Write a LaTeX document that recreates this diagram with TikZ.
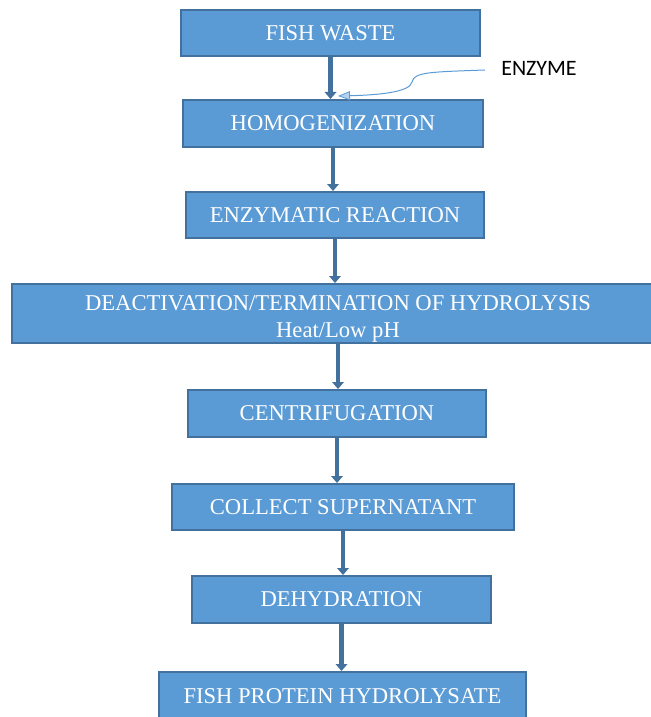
\documentclass[tikz,border=0pt]{standalone}
\usepackage{fontspec}
\setmainfont{Liberation Serif}
\newfontfamily\labelfont{Carlito}
\usepackage{xcolor}
\usetikzlibrary{arrows.meta,calc}
\definecolor{boxfill}{RGB}{91,155,213}
\definecolor{boxedge}{RGB}{65,113,156}
\tikzset{
  stepbox/.style = {draw=boxedge, fill=boxfill, line width=1pt, text=white, align=center,
                    font=\fontsize{11.3}{13.5}\selectfont, inner sep=0pt},
  flow/.style    = {-{Triangle[width=6pt,length=3.5pt,line width=0pt]}, line width=2.4pt, draw=boxedge},
  feed/.style    = {-{Triangle[width=4.5pt,length=6pt,line width=0.4pt,fill=boxfill!45]}, line width=0.5pt, draw=boxfill},
}
\newcommand{\lowered}[1]{\raisebox{-2.5pt}[\height][\depth]{#1}}

\begin{document}
\begin{tikzpicture}[x=0.5pt,y=-0.5pt]
  \clip (0,0) rectangle (651,717);
  \node[stepbox, minimum width=149.5pt, minimum height=23pt]   (fish)    at (330.5,33)  {FISH WASTE};
  \node[stepbox, minimum width=150pt,   minimum height=23.5pt] (homog)   at (333,123.5) {HOMOGENIZATION};
  \node[stepbox, minimum width=149pt,   minimum height=23pt]   (react)   at (335,215)   {ENZYMATIC REACTION};
  \node[stepbox, minimum width=326pt,   minimum height=29.5pt] (deact)   at (338,313.5)
    {\lowered{DEACTIVATION/TERMINATION OF HYDROLYSIS}\\\lowered{Heat/Low pH}};
  \node[stepbox, minimum width=149pt,   minimum height=23.5pt] (centri)  at (337,413.5) {CENTRIFUGATION};
  \node[stepbox, minimum width=171pt,   minimum height=23pt]   (collect) at (343,507)   {COLLECT SUPERNATANT};
  \node[stepbox, minimum width=149.5pt, minimum height=23.5pt] (dehyd)   at (341.5,599.5) {DEHYDRATION};
  \node[stepbox, minimum width=183.5pt, minimum height=24pt]   (fph)     at (342.5,696) {FISH PROTEIN HYDROLYSATE};

  \draw[flow] (fish.south)    -- (fish.south |- homog.north);
  \draw[flow] (homog.south)   -- (homog.south |- react.north);
  \draw[flow] (react.south)   -- (react.south |- deact.north);
  \draw[flow] (deact.south)   -- (deact.south |- centri.north);
  \draw[flow] (centri.south)  -- (centri.south |- collect.north);
  \draw[flow] (collect.south) -- (collect.south |- dehyd.north);
  \draw[flow] (dehyd.south)   -- (dehyd.south |- fph.north);

  \node[font=\labelfont\fontsize{11}{13}\selectfont, inner sep=0pt] (enzyme) at (539,68) {ENZYME};
  \coordinate (enzsrc) at ($(enzyme.west)+(-16,2)$);
  \coordinate (enzin) at ($(homog.north)+(5,-3)$);
  \draw[feed] (enzsrc) .. controls (430,72) and (414,72) .. (412,82)
                       .. controls (410,92) and (380,95) .. (enzin);
\end{tikzpicture}
\end{document}
